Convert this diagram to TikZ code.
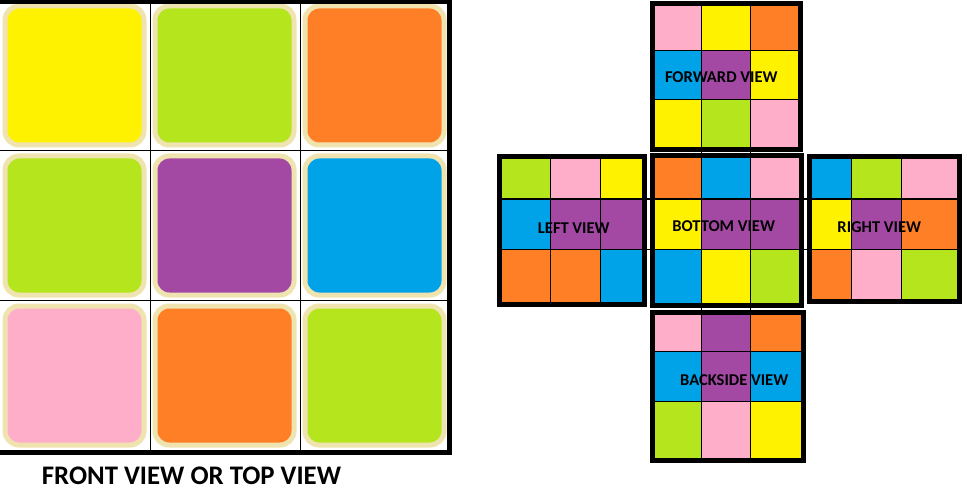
\documentclass[tikz,border=0pt]{standalone}
\usepackage{fontspec}
\setmainfont{Carlito}
\usetikzlibrary{calc}

\definecolor{cyellow}{HTML}{FFF200}
\definecolor{cgreen}{HTML}{B5E61D}
\definecolor{corange}{HTML}{FF7F27}
\definecolor{cpurple}{HTML}{A349A4}
\definecolor{cblue}{HTML}{00A2E8}
\definecolor{cpink}{HTML}{FFAEC9}
\definecolor{cbeige}{HTML}{EFE4B0}

% one face of the net: inner corners, column lines, row lines, colours
\newcommand{\netface}[9]{%
  \foreach \col [count=\k from 0] in {#9}{
    \pgfmathtruncatemacro{\ci}{mod(\k,3)}
    \pgfmathtruncatemacro{\ri}{div(\k,3)}
    \pgfmathsetmacro{\xl}{{#1,#5,#6,#3}[\ci]}
    \pgfmathsetmacro{\xr}{{#1,#5,#6,#3}[\ci+1]}
    \pgfmathsetmacro{\yt}{{#2,#7,#8,#4}[\ri]}
    \pgfmathsetmacro{\yb}{{#2,#7,#8,#4}[\ri+1]}
    \fill[\col] (\xl,\yt) rectangle (\xr,\yb);
  }
  \draw[thinline] (#5,#2) -- (#5,#4) (#6,#2) -- (#6,#4) (#1,#7) -- (#3,#7) (#1,#8) -- (#3,#8);
  \draw[facebox] (#1-2.5,#2-2.5) rectangle (#3+2.5,#4+2.5);
}

\begin{document}
\begin{tikzpicture}[
    x=1pt, y=-1pt,
    thinline/.style={line width=1},
    facebox/.style={draw, line width=5},
    tile/.style={draw=cbeige, line width=5, rounded corners=14},
    facelabel/.style={inner sep=0, font=\bfseries\fontsize{16.5}{18}\selectfont},
    caption/.style={inner sep=0, font=\bfseries\fontsize{26.8}{29}\selectfont}
]
\useasboundingbox (0,0) rectangle (967,500);

% front view
\draw[thinline] (150,0) -- (150,455) (300,0) -- (300,455) (0,150.5) -- (452,150.5) (0,300.5) -- (452,300.5);
\foreach \col [count=\k from 0] in {cyellow,cgreen,corange,cgreen,cpurple,cblue,cpink,corange,cgreen}{
  \pgfmathtruncatemacro{\ci}{mod(\k,3)}
  \pgfmathtruncatemacro{\ri}{div(\k,3)}
  \filldraw[tile, fill=\col] (150*\ci+5, 150*\ri+6) rectangle ++(139,139);
}
\draw[facebox] (-2.5,2) rectangle (449.5,452.5);
\node[caption] (caption) at (191.5,476) {FRONT VIEW OR TOP VIEW};

% net of the cube
\netface{655}{6.5}{798}{147}{701.7}{750.7}{50.7}{100}{cpink,cyellow,corange,cblue,cpurple,cyellow,cyellow,cgreen,cpink}
\netface{501.7}{159}{642}{301.7}{550.3}{600.7}{199}{249.3}{cgreen,cpink,cyellow,cblue,cpurple,cpurple,corange,corange,cblue}
\netface{655}{158.3}{799}{303}{701.7}{750.7}{199}{249.3}{corange,cblue,cpink,cyellow,cpurple,cpurple,cblue,cyellow,cgreen}
\netface{811.7}{159}{956.7}{299}{851}{901}{199}{249.3}{cblue,cgreen,cpink,cyellow,cpurple,corange,corange,cpink,cgreen}
\netface{655}{315}{801}{457.7}{701.7}{750.7}{351.7}{401}{cpink,cpurple,corange,cblue,cpurple,cblue,cgreen,cpink,cyellow}
\draw[thinline] (497,199) -- (962,199) (497,249.3) -- (962,249.3);
\draw[thinline] (701.7,2) -- (701.7,463) (750.7,2) -- (750.7,463);

\node[facelabel] (forward) at (721.3,77) {FORWARD VIEW};
\node[facelabel] (left) at (573.8,228) {LEFT VIEW};
\node[facelabel] (bottom) at (723.7,226) {BOTTOM VIEW};
\node[facelabel] (right) at (879.3,227) {RIGHT VIEW};
\node[facelabel] (back) at (734.2,380) {BACKSIDE VIEW};
\end{tikzpicture}
\end{document}
